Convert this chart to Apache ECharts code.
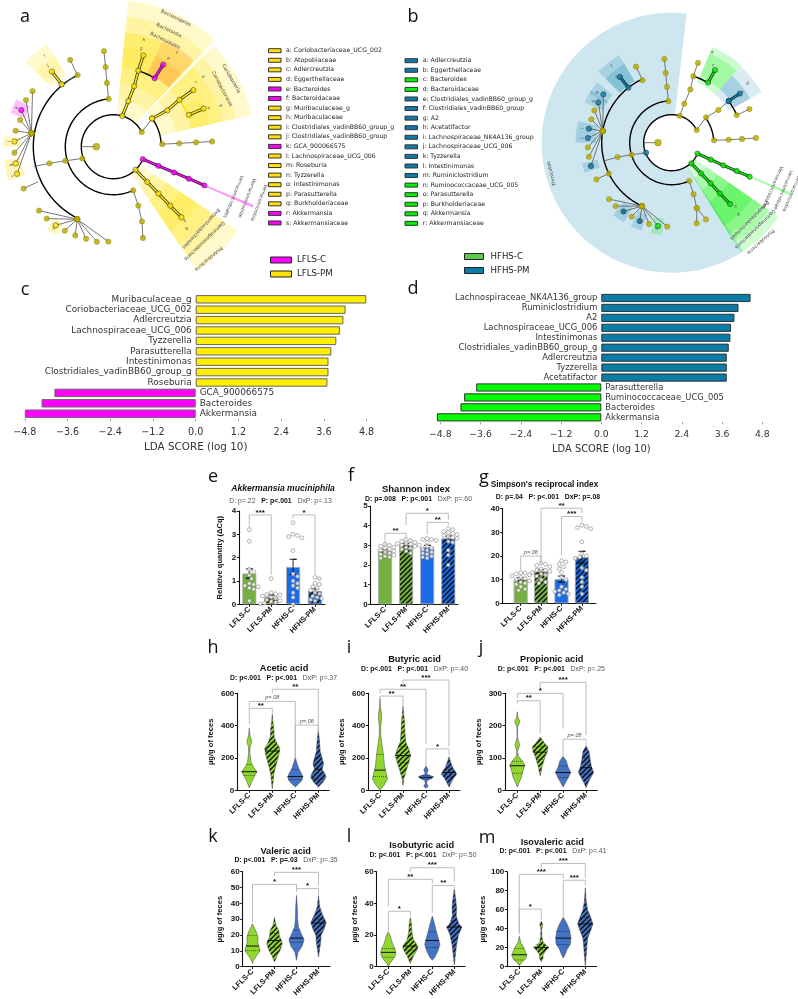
<!DOCTYPE html>
<html><head><meta charset="utf-8">
<style>html,body{margin:0;padding:0;background:#fff}#c{width:798px;height:999px}</style>
<script src="https://cdn.jsdelivr.net/npm/echarts@6/dist/echarts.min.js"></script>
</head><body><div id="c"></div>
<script>
// ---------- DATA ----------
const groups = ['LFLS-C','LFLS-PM','HFHS-C','HFHS-PM'];
// LDA panels
const ldaNamesC = ['Muribaculaceae_g','Coriobacteriaceae_UCG_002','Adlercreutzia','Lachnospiraceae_UCG_006','Tyzzerella','Parasutterella','Intestinimonas','Clostridiales_vadinBB60_group_g','Roseburia','GCA_900066575','Bacteroides','Akkermansia'];
const ldaValuesC = [4.79,4.21,4.15,4.05,3.95,3.81,3.73,3.73,3.70,-3.97,-4.33,-4.80];
const ldaNamesD = ['Lachnospiraceae_NK4A136_group','Ruminiclostridium','A2','Lachnospiraceae_UCG_006','Intestinimonas','Clostridiales_vadinBB60_group_g','Adlercreutzia','Tyzzerella','Acetatifactor','Parasutterella','Ruminococcaceae_UCG_005','Bacteroides','Akkermansia'];
const ldaValuesD = [4.45,4.09,3.97,3.87,3.85,3.80,3.74,3.74,3.74,-3.73,-4.09,-4.20,-4.90];
const ldaTicks = [-4.8,-3.6,-2.4,-1.2,0,1.2,2.4,3.6,4.8];
// cladogram legends
const legendA = ['a: Coriobacteriaceae_UCG_002','b: Atopobiaceae','c: Adlercreutzia','d: Eggerthellaceae','e: Bacteroides','f: Bacteroidaceae','g: Muribaculaceae_g','h: Muribaculaceae','i: Clostridiales_vadinBB60_group_g','j: Clostridiales_vadinBB60_group','k: GCA_900066575','l: Lachnospiraceae_UCG_006','m: Roseburia','n: Tyzzerella','o: Intestinimonas','p: Parasutterella','q: Burkholderiaceae','r: Akkermansia','s: Akkermansiaceae'];
const legendAColours = 'yyyymmyyyymyyyyyymm';
const legendB = ['a: Adlercreutzia','b: Eggerthellaceae','c: Bacteroides','d: Bacteroidaceae','e: Clostridiales_vadinBB60_group_g','f: Clostridiales_vadinBB60_group','g: A2','h: Acetatifactor','i: Lachnospiraceae_NK4A136_group','j: Lachnospiraceae_UCG_006','k: Tyzzerella','l: Intestinimonas','m: Ruminiclostridium','n: Ruminococcaceae_UCG_005','o: Parasutterella','p: Burkholderiaceae','q: Akkermansia','r: Akkermansiaceae'];
const legendBColours = 'bbggbbbbbbbbbggggg';
// cladogram A : chains of [radius, angle, colour]
const cladeAChains = [
 ['y',[[32,73.6,'y'],[48,71.8,'y'],[64,70.9,'y'],[80,71.8,'y'],[96,71.8,'y']]],
 ['m',[[80,58.9,'m'],[96,58.7,'m']]],
 ['g',[[32,27.3,'o'],[48,36,'y']]],
 ['y',[[48,36,'y'],[65,34,'y'],[81,35.3,'y'],[98,35.3,'y']]],
 ['y',[[82,22.9,'y'],[98,22.9,'y']]],
 ['g',[[49,3,'o'],[66,2.9,'o'],[83,3,'o'],[99,3,'o']]],
 ['m',[[32,337,'m'],[49,337,'m'],[66,337,'m'],[82,337,'m'],[99,337,'m']]],
 ['y',[[32,314,'y'],[49,314,'y'],[65,314,'y'],[82,314,'y'],[98,314,'y']]],
 ['g',[[48,294.4,'o'],[64,293,'o'],[80,291,'o'],[96,288,'o']]],
 ['g',[[48,95.6,'o'],[64,95.7,'o'],[80,95.5,'o'],[96,95.6,'o']]],
 ['g',[[33,200.8,'o'],[50,196.4,'o'],[66,194.6,'o'],[82,194,'n']]],
 ['g',[[32,180,'n'],[17,180,'O']]],
 ['g',[[81,129.6,'o'],[80,116.5,'n']]],
 ['g',[[80,116.5,'o'],[97,116.4,'o']]],
 ['y',[[81,129.6,'y'],[97,129.3,'y']]],
 ['g',[[83,205,'n'],[99,205,'o']]],
 ['g',[[83,170.7,'o'],[98,145.5,'o']]],['g',[[83,170.7,'o'],[99,151.9,'o']]],['g',[[83,170.7,'o'],[99,158.3,'m']]],['g',[[83,170.7,'o'],[97,164,'o']]],['g',[[83,170.7,'o'],[99,170.7,'o']]],['g',[[83,170.7,'o'],[99,177,'y']]],['g',[[83,170.7,'o'],[99,183.5,'o']]],['g',[[83,170.7,'o'],[99,189.7,'y']]],['g',[[83,170.7,'o'],[100,195.7,'y']]],
 ['g',[[81,243.5,'o'],[98,220.7,'o']]],['g',[[81,243.5,'o'],[98,227.2,'o']]],['g',[[81,243.5,'o'],[97.5,233.8,'y']]],['g',[[81,243.5,'o'],[97,240,'o']]],['g',[[81,243.5,'o'],[96.5,246.8,'o']]],['g',[[81,243.5,'o'],[96,253.5,'o']]],['g',[[81,243.5,'o'],[96.5,260.2,'o']]],['g',[[81,243.5,'o'],[95,267,'o']]]
];
const cladeAArcs = [[32,27.3,337,'k'],[48,3,36,'k'],[48,95.6,294.4,'k'],[80,116.5,243.5,'k'],[80,58.9,71.8,'k'],[81,22.9,35.3,'Y']];
const cladeASectors = [
 [33,147,46.4,84,'Y',.2],[48,131,46.4,84,'Y',.2],[64,115,46.4,84,'Y',.2],[80,115,65,84,'Y',.15],[80,100,65,84,'Y',.12],
 [81,118,47,65,'R',.2],[81,100,47,65,'R',.18],
 [48,142,13,45.2,'Y',.2],[64,126,13,45.2,'Y',.2],[80,112,13,45.2,'Y',.2],[80,100,13,30,'Y',.15],
 [32,150,-56,-34,'Y',.2],[48,134,-56,-34,'Y',.2],[64,118,-56,-34,'Y',.2],[80,102,-56,-34,'Y',.2],
 [99,152,-23.6,-22.6,'M',.4],
 [86,122,123,136,'Y',.2],[93,108,123,136,'Y',.15],
 [93,108,154,162,'M',.25],[93,110,174.5,180,'Y',.28],[93,110,187,198,'Y',.28],[92,106,231,237,'Y',.28]
];
const cladeALabels = [
 [143,64,'Bacteroidetes'],[129,64.5,'Bacteroidia'],[118,64,'Bacteroidales'],[111,74,'h'],[102,74,'g'],[113,56,'f'],[104,58,'e'],
 [136,30,'Coriobacteria'],[123,28,'Coriobacteriales'],[114,38,'d'],[105,38,'c'],[115,20.8,'b'],[103,22,'a'],
 [147,-49.6,'Proteobacteria'],[131,-46,'Gammaproteobacteria'],[120,-43,'Betaproteobacteriales'],[110,-48,'q'],[103,-46,'p'],
 [156,-21,'Verrucomicrobia'],[143,-21,'Verrucomicrobiae'],[130,-22.6,'Verrucomicrobiales'],
 [114,127,'i'],[104,129,'j'],[104,158,'k'],[104,177,'l'],[104,190,'g'],[105,196,'c'],[101,234,'o']
];
// cladogram B
const cladeBChains = [
 ['g',[[28,73.5,'o'],[41,72.1,'o'],[56.5,70.7,'o'],[70,72,'o'],[84,71.8,'o']]],
 ['G',[[70.4,58.9,'G'],[84.6,59.2,'G']]],
 ['g',[[28,26.9,'o'],[42.7,36.4,'o'],[57,35,'o'],[70.6,36.2,'b']]],
 ['b',[[70.6,36.2,'b'],[84,35.8,'b']]],
 ['g',[[70.6,23,'o'],[84.7,23.4,'o']]],
 ['g',[[42.4,3.2,'o'],[57,3,'o'],[70.4,3,'o'],[84.4,3.2,'o']]],
 ['G',[[28,337,'G'],[42.5,336.5,'G'],[56.4,336.3,'G'],[71,336.5,'G'],[85,336.4,'G']]],
 ['G',[[28.5,313.6,'G'],[42.4,313.7,'G'],[56.3,313.8,'G'],[70,313.5,'G'],[84.6,313.6,'G']]],
 ['g',[[42,294.7,'o'],[56,293,'o'],[70,291,'o'],[84.4,287.2,'o']]],
 ['g',[[70,291,'o'],[84,294.1,'o']]],
 ['g',[[41.7,94.6,'o'],[56,94.8,'o'],[70,94.9,'o'],[84,95,'o']]],
 ['g',[[27.5,201.3,'b'],[41.8,196.7,'o'],[56,194.9,'o'],[70,195,'n']]],
 ['g',[[28,180,'n'],[13.7,180,'O']]],
 ['g',[[69,115,'o'],[84,115.1,'o']]],
 ['b',[[70,128.2,'b'],[83.6,128.2,'b']]],
 ['g',[[70,206.1,'o'],[83.8,206,'o']]],
 ['g',[[70,170.4,'o'],[83.7,144.7,'b']]],['g',[[70,170.4,'o'],[83.7,151.2,'b']]],['g',[[70,170.4,'o'],[83.8,157.3,'o']]],['g',[[70,170.4,'o'],[83.7,163.8,'o']]],['g',[[70,170.4,'o'],[84,170.4,'b']]],['g',[[70,170.4,'o'],[84,176.8,'b']]],['g',[[70,170.4,'o'],[84,183.2,'o']]],['g',[[70,170.4,'o'],[84,189.6,'o']]],['g',[[70,170.4,'o'],[84,196.1,'b']]],
 ['g',[[70,244.9,'o'],[84.3,222,'o']]],['g',[[70,244.9,'o'],[84.6,228.5,'o']]],['g',[[70,244.9,'o'],[84,235,'b']]],['g',[[70,244.9,'o'],[84,241.6,'o']]],['g',[[70,244.9,'o'],[84.6,247.8,'b']]],['g',[[70,244.9,'o'],[84.4,254.4,'o']]],['g',[[70,244.9,'o'],[84.4,260.7,'G']]],['g',[[70,244.9,'o'],[84,267,'o']]]
];
const cladeBArcs = [[28,26.9,337,'k'],[42,3.2,36.4,'k'],[42,94.6,294.7,'k'],[70,115,244.9,'k'],[70,59,72,'k'],[70.6,23,36.2,'k']];
const cladeBSectors = [
 [28,130,83.4,303.3,'B',.2],
 [72,102,121,136,'B',.2],[72,92,121,136,'B',.2],[76,96,141,149,'B',.2],[76,96,147,155,'B',.2],[76,96,167,174,'B',.22],[76,96,174,180,'B',.22],[76,92,193,199,'B',.22],[76,93,231,239,'B',.22],[76,93,244,251,'B',.22],[76,93,257,264,'G',.2],
 [65,104,48,67,'G',.2],[72,97,48,67,'G',.2],[65,103,29.4,48,'B',.15],[72,90,29.4,48,'B',.25],
 [28,130,-57.9,-34.8,'G',.18],[42,118,-57.9,-34.8,'G',.18],[56,108,-57.9,-34.8,'G',.2],[70,98,-57.9,-34.8,'G',.2],
 [85,130,-24,-22.8,'G',.35]
];
const cladeBLabels = [
 [124,194.3,'Firmicutes'],[99,66,'d'],[88,62,'c'],[96,38,'b'],[87,36,'a'],[97,128,'f'],[86,130,'e'],[90,146,'g'],[88,152,'h'],[90,171,'i'],[90,177,'j'],[84,196,'l'],[84,235,'m'],[85,248,'k'],[87,260,'n'],
 [133,-48,'Proteobacteria'],[120,-46,'Gammaproteobacteria'],[110,-45,'Betaproteobacteriales'],[98,-47,'p'],[90,-45,'o'],
 [130,-23,'Verrucomicrobia'],[121,-23,'Verrucomicrobiae'],[110,-24,'Verrucomicrobiales']
];
// bar + dots panels
const akkMeans=[1.32,.32,1.6,.57], akkErrs=[.2,.08,.33,.1];
const akkPoints=[[3.2,2.7,1.5,1.4,1.25,1.1,.9,.85,.8,.75,.7,.65,.15],[1.1,.5,.45,.42,.4,.35,.3,.25,.2,.15,.12,.08,.05,.02],[3.5,3,2.95,2.9,2.85,2.3,1.3,1.2,1,.9,.8,.7,.5,.3,0],[1.15,1.1,.9,.85,.75,.7,.6,.5,.45,.35,.3,.25,.2,.15]];
const akkBrackets=[[0,1,3.83,3.26,1.26,'***'],[2,3,3.83,3.69,1.26,'*']];
const shannonMeans=[2.72,3.03,2.9,3.35], shannonErrs=[.07,.07,.1,.12];
const shannonPoints=[[3.05,3,2.95,2.9,2.85,2.8,2.75,2.7,2.65,2.6,2.55,2.5,2.45,2.4,2.35],[3.3,3.25,3.2,3.15,3.1,3.08,3.05,3.02,3,2.95,2.9,2.85,2.8,2.7,2.6],[3.35,3.3,3.3,3.25,3.15,2.95,2.85,2.8,2.75,2.65,2.6,2.55,2.45,2.4,2.35],[3.85,3.8,3.7,3.65,3.6,3.55,3.5,3.45,3.4,3.35,3.2,3.15,2.75,2.5,2]];
const shannonBrackets=[[1,3,4.63,4.03,4.29,'*'],[0,1,3.61,3.02,3.36,'**'],[2,3,4.17,3.53,4.03,'**']];
const simpsonMeans=[10.2,13.5,10.2,19.5], simpsonErrs=[.7,.8,1.3,2.5];
const simpsonPoints=[[13,12.8,12.5,12,11.5,11,10.5,10,9.5,9,8.5,8,7,6,5.5],[17,16.5,16,15.5,14.5,14,14,13.5,13,12.5,12,11.5,10,9,8.5],[18,17.5,16.5,15.5,14.5,13,11,10,7,6,5.5,5,4.5,4,3.5],[33,32.5,32,31.5,26,21,20,19.5,19,15,14,11,9,7,4]];
const simpsonBrackets=[[1,3,40.2,16.2,38,'**'],[2,3,36.7,20.4,34.5,'***'],[0,1,20,14,17.6,'p=.06']];
// violin panels : [value, relative half width]
const aceticViolins=[
 [[384,0],[340,.1],[300,.33],[270,.12],[230,.08],[170,.25],[140,.6],[115,1],[85,.65],[50,.3],[15,0]],
 [[470,0],[420,.1],[380,.2],[330,.25],[290,.6],[260,1],[230,.9],[190,.7],[150,.45],[100,.2],[50,.1],[10,0]],
 [[205,0],[170,.2],[130,.5],[110,.75],[85,1],[60,.85],[40,.45],[20,0]],
 [[370,0],[310,.15],[240,.25],[190,.55],[165,.7],[130,.5],[100,.9],[80,1],[50,.6],[20,0]]];
const aceticQuart=[[92,115,160],[170,243,295],[65,85,130],[70,130,205]];
const aceticBrackets=[[1,3,625,600,363,'**'],[0,2,550,511,194,'p=.08'],[0,1,507,408,476,'**'],[2,3,404,208,363,'p=.06']];
const butyricViolins=[
 [[570,0],[520,.05],[470,.2],[440,.2],[400,.1],[340,.1],[290,.25],[220,.45],[150,.6],[100,.85],[70,1],[30,.5],[0,0]],
 [[520,0],[460,.12],[420,.2],[360,.25],[300,.35],[250,.8],[215,1],[180,.8],[120,.4],[70,.1],[30,0]],
 [[150,0],[125,.3],[105,.1],[95,.3],[85,1],[75,.8],[60,.15],[40,.1],[25,.3],[12,0]],
 [[208,0],[170,.25],[140,.5],[115,.85],[100,1],[75,.6],[50,.3],[20,0]]];
const butyricQuart=[[85,125,222],[170,215,270],[70,80,90],[85,110,130]];
const butyricBrackets=[[1,3,682,650,270,'***'],[0,2,625,600,284,'**'],[0,1,583,560,517,'**'],[2,3,256,146,218,'*']];
const propionicViolins=[
 [[243,0],[225,.1],[213,.35],[195,.05],[165,.02],[140,.3],[120,.05],[105,.15],[90,.7],[78,1],[60,.75],[40,.55],[25,.25],[10,0]],
 [[165,0],[148,.5],[135,1],[120,.95],[105,.65],[85,.4],[70,.2],[60,.15],[45,0]],
 [[105,0],[90,.45],[75,.6],[55,1],[40,.7],[25,.35],[10,0]],
 [[137,0],[120,.4],[95,.55],[75,.7],[55,1],[40,.65],[25,.3],[8,0]]];
const propionicQuart=[[53,76,90],[95,118,135],[40,55,75],[50,70,100]];
const propionicBrackets=[[1,3,334,310,171,'***'],[0,2,300,285,192,'*'],[0,1,277,269,176,'**'],[2,3,158,104,135,'p=.08']];
const valericViolins=[
 [[27,0],[22,.5],[18,.75],[15,.7],[12,.9],[10,1],[7,.55],[4,.15],[2,0]],
 [[31,0],[26,.2],[23,.55],[19,.65],[16,.95],[14,1],[10,.7],[7,.35],[3,0]],
 [[45,0],[38,.1],[30,.15],[25,.25],[20,.7],[17,1],[13,.75],[9,.2],[4,0]],
 [[45,0],[38,.15],[33,.5],[28,1],[24,.75],[20,.35],[16,.3],[11,.15],[6,0]]];
const valericQuart=[[10,13,19.5],[12,16.5,21],[15.5,18,23],[20,27.5,30]];
const valericBrackets=[[1,3,59.6,57.5,51,'***'],[0,2,52,28,48.5,'*'],[2,3,49.3,47.4,45.4,'*']];
const isobutyricViolins=[
 [[22,0],[19,.3],[17,.4],[14,.6],[11,.9],[8,1],[5,.7],[2,.2],[0,0]],
 [[31,0],[27,.15],[22,.2],[17,.4],[14,.85],[12,1],[9,.7],[6,.35],[2,0]],
 [[32,0],[27,.3],[22,.55],[17,.85],[14,1],[10,.75],[6,.35],[4,0]],
 [[49,0],[42,.2],[37,.3],[32,.25],[27,.6],[25,1],[20,.55],[14,.3],[8,.15],[1,0]]];
const isobutyricQuart=[[6,9,11.5],[10,13,17],[12,16.5,22],[17,25,29]];
const isobutyricBrackets=[[1,3,62.5,60,53.7,'***'],[0,2,55.2,38,52.7,'**'],[0,1,35,22.3,32,'*'],[2,3,51.2,34,49.5,'**']];
const isovalericViolins=[
 [[32,0],[25,.2],[20,.6],[16,.8],[12,1],[8,.8],[4,.3],[1,0]],
 [[48,0],[44,.2],[40,.05],[32,.08],[26,.2],[22,.7],[20,1],[17,.6],[12,.2],[9,.25],[5,0]],
 [[52,0],[45,.5],[38,.85],[30,1],[24,.95],[18,.5],[12,.2],[9,0]],
 [[83,0],[70,.1],[60,.3],[52,.7],[45,1],[38,.7],[30,.3],[20,.2],[10,.1],[1,0]]];
const isovalericQuart=[[7,12.5,19],[18,20,23],[23,30,37],[28,45,52]];
const isovalericBrackets=[[1,3,108.7,103,93,'***'],[0,2,97.2,35.5,93,'***'],[2,3,91,53,86,'***'],[0,1,60.6,33.8,49.5,'*']];

// ---------- STYLE ----------
const SANS='"Liberation Sans",Arial,sans-serif', DJ='"DejaVu Sans",sans-serif', LET='"Open Sans",sans-serif';
const C={y:'#ffe800',m:'#ff00ff',o:'#b9ab00',b:'#0a7ca8',G:'#00f000',O:'#b9ab00',Y:'#ffdf00',M:'#ff00ff',R:'#ff7a00',B:'#0a80b0',g:'#555',k:'#000'};
const grid=[],xAxis=[],yAxis=[],series=[],gfx=[],polar=[],radiusAxis=[],angleAxis=[];
function hatch(col){const n=5,c=document.createElement('canvas');c.width=c.height=n;const x=c.getContext('2d');x.fillStyle=col;x.fillRect(0,0,n,n);x.strokeStyle='#0a0a0a';x.lineWidth=1.3;
 [[-1,1,1,-1],[0,n,n,0],[n-1,n+1,n+1,n-1]].forEach(l=>{x.beginPath();x.moveTo(l[0],l[1]);x.lineTo(l[2],l[3]);x.stroke();});return {image:c,repeat:'repeat'};}
function txt(t,x,y,o){gfx.push({type:'text',x:x,y:y,silent:true,rotation:(o&&o.rot)||0,style:Object.assign({text:t,fill:'#222',align:'left',verticalAlign:'middle',font:'6.2px '+DJ},o||{})});}
function rect(x,y,w,h,f,s){gfx.push({type:'rect',silent:true,shape:{x,y,width:w,height:h},style:{fill:f,stroke:s||'#333',lineWidth:1}});}

// ---------- CLADOGRAMS ----------
function clade(cx,cy,chains,arcs,sectors,labels){
 const p=polar.length;
 polar.push({center:[cx,cy],radius:170});
 radiusAxis.push({polarIndex:p,min:0,max:170,show:false});
 angleAxis.push({polarIndex:p,min:0,max:360,startAngle:0,clockwise:false,show:false});
 const norm=a=>a<0?a+360:a;
 series.push({type:'custom',coordinateSystem:'polar',polarIndex:p,z:1,silent:true,data:sectors.map(s=>[s[0],norm(s[2])]),
  renderItem(par,api){const s=sectors[par.dataIndex],pts=[];
   for(let a=s[2];a<s[3];a+=2)pts.push(api.coord([s[1],norm(a)]));pts.push(api.coord([s[1],norm(s[3])]));
   for(let a=s[3];a>s[2];a-=2)pts.push(api.coord([s[0],norm(a)]));pts.push(api.coord([s[0],norm(s[2])]));
   return {type:'polygon',shape:{points:pts},style:{fill:C[s[4]],opacity:s[5]}};}});
 series.push({type:'custom',coordinateSystem:'polar',polarIndex:p,z:2,silent:true,data:arcs.map(s=>[s[0],norm(s[1])]),
  renderItem(par,api){const s=arcs[par.dataIndex],pts=[];
   for(let a=s[1];a<s[2];a+=2)pts.push(api.coord([s[0],norm(a)]));pts.push(api.coord([s[0],norm(s[2])]));
   return {type:'polyline',shape:{points:pts},style:{fill:null,stroke:C[s[3]],lineWidth:1.4}};}});
 series.push({type:'custom',coordinateSystem:'polar',polarIndex:p,z:3,silent:true,data:chains.map(s=>[s[1][0][0],s[1][0][1]]),
  renderItem(par,api){const s=chains[par.dataIndex],pts=s[1].map(q=>api.coord([q[0],q[1]]));
   const ch=[];
   if(s[0]!=='g')ch.push({type:'polyline',shape:{points:pts},style:{fill:null,stroke:'#222',lineWidth:3}});
   ch.push({type:'polyline',shape:{points:pts},style:{fill:null,stroke:C[s[0]],lineWidth:s[0]==='g'?.8:1.6}});
   return {type:'group',children:ch};}});
 const nodes=[];chains.forEach(s=>s[1].forEach(q=>{if(q[2]!=='n')nodes.push({value:[q[0],q[1]],symbolSize:q[2]==='O'?6.8:5.3,itemStyle:{color:C[q[2]],borderColor:(q[2]==='o'||q[2]==='O')?'#8d8500':'#222',borderWidth:.6}});}));
 series.push({type:'scatter',coordinateSystem:'polar',polarIndex:p,z:4,silent:true,data:nodes});
 series.push({type:'scatter',coordinateSystem:'polar',polarIndex:p,z:4,silent:true,symbolSize:1.5,itemStyle:{color:'#f0f0a0'},data:[[0,0]]});
 series.push({type:'custom',coordinateSystem:'polar',polarIndex:p,z:5,silent:true,data:labels.map(s=>[s[0],norm(s[1])]),
  renderItem(par,api){const s=labels[par.dataIndex],pt=api.coord([s[0],norm(s[1])]);
   return {type:'text',x:pt[0],y:pt[1],rotation:(s[1]-90)*Math.PI/180,style:{text:s[2],font:(s[2].length>1?'4.8px ':'4.2px ')+DJ,fill:'#444',align:'center',verticalAlign:'middle'}};}});
}
clade(113.3,146.7,cladeAChains,cladeAArcs,cladeASectors,cladeALabels);
clade(671.7,142.7,cladeBChains,cladeBArcs,cladeBSectors,cladeBLabels);
legendA.forEach((t,i)=>{const y=50.7+i*9.57;rect(268.5,y-2,12.5,4,legendAColours[i]==='y'?'#ffe000':'#ff00ff');txt(t,286,y);});
legendB.forEach((t,i)=>{const y=60.7+i*9.57;rect(405,y-2,12.5,4,legendBColours[i]==='b'?'#0a7ca8':'#00f000');txt(t,422.7,y);});
[['LFLS-C','#ff00ff',260],['LFLS-PM','#ffe000',274]].forEach(d=>{rect(270.5,d[2]-3,21,6,d[1],'#222');txt(d[0],297,d[2],{font:'8.6px '+DJ});});
[['HFHS-C','#5ec94e',256.5],['HFHS-PM','#0a7ca8',270.5]].forEach(d=>{rect(464.5,d[2]-3,19,6,d[1],'#222');txt(d[0],490.5,d[2],{font:'8.6px '+DJ});});

// ---------- LDA BARS ----------
function lda(left,zero,unit,top,bottom,names,vals,colPos,colNeg,border,fs,tickFs,titleFs,titleGap,barW,tickMargin){
 const g=grid.length;
 grid.push({left:zero-5*unit,top:top,width:10*unit,height:bottom-top});
 xAxis.push({gridIndex:g,type:'value',min:-5,max:5,splitLine:{show:false},axisLine:{show:false},
  axisTick:{show:true,length:2,lineStyle:{color:'#999'},customValues:ldaTicks},
  axisLabel:{customValues:ldaTicks,formatter:v=>Number(v).toFixed(1).replace('-','\u2212'),fontFamily:DJ,fontSize:tickFs,color:'#333',margin:tickMargin},
  name:'LDA SCORE (log 10)',nameLocation:'middle',nameGap:titleGap,nameTextStyle:{fontFamily:DJ,fontSize:titleFs,color:'#333'}});
 yAxis.push({gridIndex:g,type:'category',inverse:true,data:names,axisLine:{show:false},axisTick:{show:false},axisLabel:{show:false}});
 series.push({type:'bar',xAxisIndex:g,yAxisIndex:g,barWidth:barW,silent:true,
  data:vals.map(v=>({value:v,itemStyle:{color:v>0?colPos:colNeg,borderColor:border,borderWidth:1},
   label:{show:true,position:v>0?'left':'right',distance:4,formatter:'{b}',fontFamily:DJ,fontSize:fs,color:'#333'}}))});
}
lda(25,195.7,35.6,294.1,418.9,ldaNamesC,ldaValuesC,'#ffee00','#ff00ff','#666',8.9,9.6,10.4,23,8.4,9);
lda(441,601.3,33.54,293,422.3,ldaNamesD,ldaValuesD,'#0a7ca8','#00ff00','#333',8.4,9.3,9.9,22,8.2,8);

// ---------- SMALL PANELS ----------
function axes(l){
 const g=grid.length;
 grid.push({left:l.left,top:l.yTop,width:l.right-l.left,height:l.y0-l.yTop});
 const min=(l.left-l.c0)/l.band,max=(l.right-l.c0)/l.band;
 xAxis.push({gridIndex:g,type:'value',min:min,max:max,splitLine:{show:false},
  axisLine:{lineStyle:{color:'#111',width:1.1}},axisTick:{length:2.5,lineStyle:{color:'#111',width:1},customValues:[0,1,2,3]},
  axisLabel:{customValues:[0,1,2,3],formatter:v=>groups[Math.round(v)],rotate:45,fontFamily:SANS,fontWeight:'bold',fontSize:7.4,color:'#111',margin:4,hideOverlap:false,showMinLabel:true,showMaxLabel:true}});
 yAxis.push({gridIndex:g,type:'value',min:0,max:l.max,interval:l.interval,splitLine:{show:false},
  axisLine:{show:true,onZero:false,lineStyle:{color:'#111',width:1.1}},axisTick:{show:true,length:2.5,lineStyle:{color:'#111',width:1}},
  axisLabel:{fontFamily:SANS,fontWeight:'bold',fontSize:8,color:'#111',margin:3},
  name:l.name||'',nameLocation:'middle',nameGap:l.nameGap||20,nameTextStyle:{fontFamily:SANS,fontWeight:'bold',fontSize:7.6,color:'#111'}});
 return g;
}
function brackets(g,list){
 series.push({type:'custom',xAxisIndex:g,yAxisIndex:g,z:6,silent:true,data:list.map(b=>[b[0],b[2]]),
  renderItem(par,api){const b=list[par.dataIndex];
   const A=api.coord([b[0],b[3]]),B=api.coord([b[0],b[2]]),D=api.coord([b[1],b[2]]),E=api.coord([b[1],b[4]]);
   const isP=b[5][0]==='p';
   return {type:'group',children:[
    {type:'polyline',shape:{points:[A,B,D,E]},style:{fill:null,stroke:'#b4b4b4',lineWidth:.9}},
    {type:'text',x:(B[0]+D[0])/2,y:B[1]-(isP?3.5:2.5),style:{text:b[5],align:'center',verticalAlign:'middle',font:isP?'italic 5.6px '+SANS:'bold 8px '+SANS,fill:isP?'#555':'#111'}}]};}});
}
// a subtitle is a list of [text, isBold] runs
function titles(t,tx,ty,sub,sx,sy,tf,titleFont){
 txt(t,tx,ty,{align:'center',font:titleFont||('bold '+(tf||9.2)+'px '+SANS),fill:'#111'});
 gfx.push({type:'text',x:sx,y:sy,silent:true,style:{text:sub.map(r=>'{'+(r[1]?'b':'n')+'|'+r[0]+'}').join(''),align:'center',verticalAlign:'middle',
  rich:{b:{font:'bold 6.9px '+SANS,fill:'#111'},n:{font:'6.9px '+SANS,fill:'#555'}}}});
}
function barPanel(l,means,errs,pts,br){
 const g=axes(l),unit=(l.y0-l.yTop)/l.max;
 const cols=['#74b041',hatch('#74b041'),'#1a6be8',hatch('#1a6be8')];
 series.push({type:'bar',xAxisIndex:g,yAxisIndex:g,barWidth:l.barW||14,silent:true,z:2,
  data:means.map((m,i)=>({value:[i,m],itemStyle:{color:cols[i],borderColor:'#aaa',borderWidth:.8}}))});
 series.push({type:'custom',xAxisIndex:g,yAxisIndex:g,z:4,silent:true,data:means.map((m,i)=>[i,m]),
  renderItem(par,api){const i=par.dataIndex,T=api.coord([i,means[i]+errs[i]]),B=api.coord([i,means[i]-errs[i]]);
   return {type:'polyline',shape:{points:[[T[0]-3.5,T[1]],[T[0]+3.5,T[1]],T,B,[B[0]-3.5,B[1]],[B[0]+3.5,B[1]]]},style:{fill:null,stroke:'#111',lineWidth:.9}};}});
 const dots=[];
 pts.forEach((vals,i)=>{const placed=[];vals.forEach(v=>{const yp=v*unit;let off=0;
   for(let k=0;k<12;k++){off=(k%2?1:-1)*Math.ceil(k/2)*2.2;if(placed.every(q=>Math.hypot(q[0]-off,q[1]-yp)>=3.8))break;}
   placed.push([off,yp]);dots.push([i+off/l.band,v]);});});
 series.push({type:'scatter',xAxisIndex:g,yAxisIndex:g,z:5,silent:true,symbolSize:3.8,itemStyle:{color:'#fff',borderColor:'#777',borderWidth:.7},data:dots});
 brackets(g,br);
}
function interp(p,v){for(let i=0;i<p.length-1;i++){if(v<=p[i][0]&&v>=p[i+1][0]){const t=(p[i][0]-v)/(p[i][0]-p[i+1][0]);return p[i][1]+t*(p[i+1][1]-p[i][1]);}}return 0;}
function violinPanel(l,viol,quart,br){
 const g=axes(Object.assign({name:'\u00b5g/g of feces'},l));
 const fills=['#8fd62e',hatch('#8fd62e'),'#4472c4',hatch('#4472c4')],HW=7.6;
 series.push({type:'custom',xAxisIndex:g,yAxisIndex:g,z:3,silent:true,data:viol.map((v,i)=>[i,v[0][0]]),
  renderItem(par,api){const i=par.dataIndex,p=viol[i],cx=api.coord([i,0])[0],pts=[];
   const side=[];p.forEach(q=>{const y=api.coord([i,q[0]])[1];side.push([q[1]*HW,y]);});
   side.forEach(s=>pts.push([cx-s[0],s[1]]));side.slice().reverse().forEach(s=>pts.push([cx+s[0],s[1]]));
   const ch=[{type:'polygon',shape:{points:pts},style:{fill:fills[i],stroke:'#444',lineWidth:.5}}];
   quart[i].forEach((q,k)=>{const y=api.coord([i,q])[1],w=interp(p,q)*HW;
    ch.push({type:'line',shape:{x1:cx-w,y1:y,x2:cx+w,y2:y},style:{stroke:'#111',lineWidth:k===1?1:.6,lineDash:k===1?null:[1,1]}});});
   return {type:'group',children:ch};}});
 brackets(g,br);
}
barPanel({left:239.3,right:325,c0:249.3,band:21.9,y0:604.3,yTop:511,max:4,interval:1,name:'Relative quantity (\u0394Cq)',nameGap:15},akkMeans,akkErrs,akkPoints,akkBrackets);
barPanel({left:370.7,right:458,c0:385,band:21.1,y0:604.3,yTop:506,max:5,interval:1},shannonMeans,shannonErrs,shannonPoints,shannonBrackets);
barPanel({left:502.7,right:596,c0:520.7,band:20.4,y0:603.3,yTop:508.7,max:40,interval:10},simpsonMeans,simpsonErrs,simpsonPoints,simpsonBrackets);
violinPanel({left:237.3,right:329.3,c0:249.3,band:23,y0:790.3,yTop:693.3,max:600,interval:200,nameGap:22},aceticViolins,aceticQuart,aceticBrackets);
violinPanel({left:368.3,right:460,c0:380,band:23,y0:790.3,yTop:693.3,max:600,interval:200,nameGap:22},butyricViolins,butyricQuart,butyricBrackets);
violinPanel({left:505,right:597.3,c0:517.3,band:22.9,y0:790.3,yTop:693.3,max:300,interval:100,nameGap:22},propionicViolins,propionicQuart,propionicBrackets);
violinPanel({left:242.7,right:330,c0:252.5,band:22,y0:967.3,yTop:871.7,max:60,interval:10,nameGap:19},valericViolins,valericQuart,valericBrackets);
violinPanel({left:376.7,right:465.3,c0:388.3,band:22,y0:967.3,yTop:871.7,max:60,interval:20,nameGap:18},isobutyricViolins,isobutyricQuart,isobutyricBrackets);
violinPanel({left:507.3,right:596.7,c0:519.3,band:22,y0:967.3,yTop:871.7,max:100,interval:20,nameGap:20},isovalericViolins,isovalericQuart,isovalericBrackets);

const subA=t=>[['D: p<.001   P: p<.001   ',1],[t,0]];
titles('Akkermansia muciniphila',283,488.3,[['D: p=.22   ',0],['P: p<.001   ',1],['DxP: p=.13',0]],280.5,501,0,'italic bold 8.6px '+SANS);
titles('Shannon index',416,489,[['D: p=.008   P: p<.001   ',1],['DxP: p=.60',0]],418.5,499.3,9.5);
titles("Simpson's reciprocal index",544.5,485,[['D: p=.04   P: p<.001   DxP: p=.08',1]],548,497,8.3);
titles('Acetic acid',284,668.3,subA('DxP: p=.37'),283.5,677.7);
titles('Butyric acid',414.5,659,subA('DxP: p=.40'),414.5,668.7);
titles('Propionic acid',551.7,659,subA('DxP: p=.25'),551.3,668.7);
titles('Valeric acid',285.7,851.3,[['D: p<.001   P: p=.03   ',1],['DxP: p=.35',0]],286,860);
titles('Isobutyric acid',421.7,845.7,subA('DxP: p=.50'),423,855);
titles('Isovaleric acid',552.3,842.3,subA('DxP: p=.41'),553,851);

[['a',25,17],['b',413,17],['c',25,290],['d',413,289],['e',213,477],['f',351,476],['g',484,478],['h',213,648],['i',349,648],['j',481,648],['k',213,837],['l',349,837],['m',487,838]]
 .forEach(d=>txt(d[0],d[1],d[2],{align:'center',font:'18px '+LET,fill:'#111'}));

const chart=echarts.init(document.getElementById('c'),null,{renderer:'canvas'});
chart.setOption({animation:false,backgroundColor:'#fff',grid,xAxis,yAxis,polar,radiusAxis,angleAxis,series,graphic:{elements:gfx}});
</script></body></html>
